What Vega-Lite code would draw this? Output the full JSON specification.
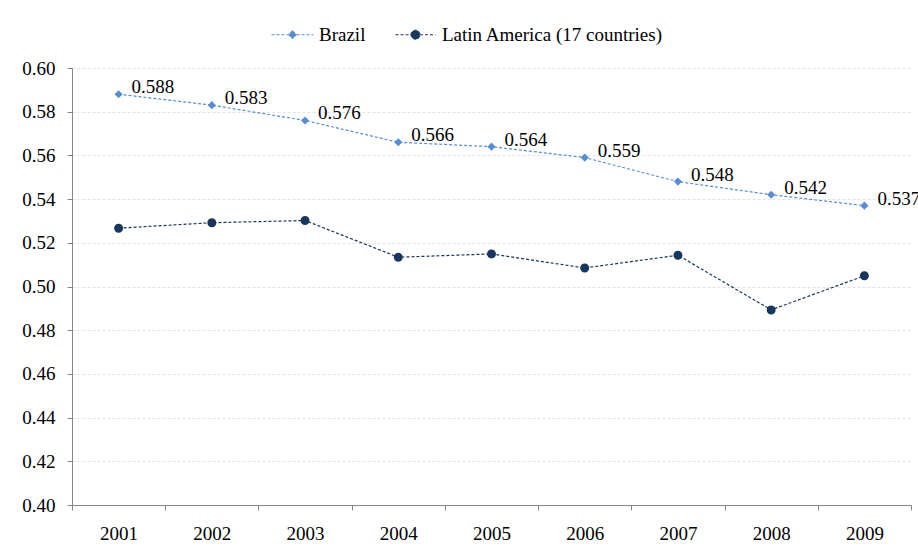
{
  "$schema": "https://vega.github.io/schema/vega-lite/v6.json",
  "width": 839,
  "height": 437,
  "autosize": {"type": "none"},
  "padding": {"left": 72, "top": 68, "right": 7, "bottom": 50},
  "background": "white",
  "config": {
    "view": {"stroke": null},
    "font": "Liberation Serif",
    "axis": {"labelFont": "Liberation Serif", "labelFontSize": 19, "labelColor": "#000000", "domainColor": "#868686", "tickColor": "#868686", "tickSize": 5, "title": null},
    "legend": {"labelFont": "Liberation Serif", "labelFontSize": 19, "labelColor": "#000000", "labelLimit": 0}
  },
  "data": {
    "values": [
      {"year": "2001", "series": "Brazil", "value": 0.588},
      {"year": "2002", "series": "Brazil", "value": 0.583},
      {"year": "2003", "series": "Brazil", "value": 0.576},
      {"year": "2004", "series": "Brazil", "value": 0.566},
      {"year": "2005", "series": "Brazil", "value": 0.564},
      {"year": "2006", "series": "Brazil", "value": 0.559},
      {"year": "2007", "series": "Brazil", "value": 0.548},
      {"year": "2008", "series": "Brazil", "value": 0.542},
      {"year": "2009", "series": "Brazil", "value": 0.537},
      {"year": "2001", "series": "Latin America (17 countries)", "value": 0.5267},
      {"year": "2002", "series": "Latin America (17 countries)", "value": 0.5292},
      {"year": "2003", "series": "Latin America (17 countries)", "value": 0.5302},
      {"year": "2004", "series": "Latin America (17 countries)", "value": 0.5134},
      {"year": "2005", "series": "Latin America (17 countries)", "value": 0.5149},
      {"year": "2006", "series": "Latin America (17 countries)", "value": 0.5085},
      {"year": "2007", "series": "Latin America (17 countries)", "value": 0.5143},
      {"year": "2008", "series": "Latin America (17 countries)", "value": 0.4893},
      {"year": "2009", "series": "Latin America (17 countries)", "value": 0.5049}
    ]
  },
  "encoding": {
    "x": {
      "field": "year", "type": "ordinal",
      "scale": {"type": "band", "paddingInner": 0, "paddingOuter": 0},
      "axis": {"labelAngle": 0, "tickBand": "extent", "labelPadding": 14, "grid": false, "domainColor": "#868686"}
    },
    "y": {
      "field": "value", "type": "quantitative",
      "scale": {"domain": [0.4, 0.6], "nice": false, "zero": false},
      "axis": {"values": [0.4, 0.42, 0.44, 0.46, 0.48, 0.5, 0.52, 0.54, 0.56, 0.58, 0.6], "format": ".2f", "labelPadding": 12, "grid": true, "gridColor": "#E3E3E3", "gridDash": [3, 2], "gridWidth": 1}
    }
  },
  "layer": [
    {
      "mark": {"type": "line", "strokeWidth": 1.2, "strokeDash": [3, 2]},
      "encoding": {
        "color": {"field": "series", "type": "nominal", "scale": {"domain": ["Brazil", "Latin America (17 countries)"], "range": ["#558ED5", "#17375E"]}}
      }
    },
    {
      "mark": {"type": "point", "filled": true, "opacity": 1, "size": 81},
      "encoding": {
        "color": {
          "field": "series", "type": "nominal",
          "scale": {"domain": ["Brazil", "Latin America (17 countries)"], "range": ["#558ED5", "#17375E"]},
          "legend": {
            "orient": "none", "direction": "horizontal", "title": null,
            "legendX": 211, "legendY": -43,
            "symbolSize": 81, "labelOffset": 17, "columnPadding": 27,
            "symbolDash": [3, 2], "symbolStrokeWidth": 1,
            "encode": {"symbols": {"update": {"stroke": {"scale": "color", "field": "value"}, "opacity": {"value": 1}}}}
          }
        },
        "shape": {
          "field": "series", "type": "nominal",
          "scale": {"domain": ["Brazil", "Latin America (17 countries)"], "range": ["M-4.67,0L-0.9,0M0,-0.9L0.9,0L0,0.9L-0.9,0ZM0.9,0L4.67,0", "M-4.44,0L-1,0M-1,0A1,1,0,1,1,1,0A1,1,0,1,1,-1,0ZM1,0L4.44,0"]}
        }
      }
    },
    {
      "transform": [{"filter": "datum.series === 'Brazil'"}],
      "mark": {"type": "text", "align": "left", "baseline": "middle", "dx": 13, "dy": -7, "fontSize": 19, "font": "Liberation Serif", "color": "#000000"},
      "encoding": {"text": {"field": "value", "type": "quantitative", "format": ".3f"}}
    }
  ]
}
